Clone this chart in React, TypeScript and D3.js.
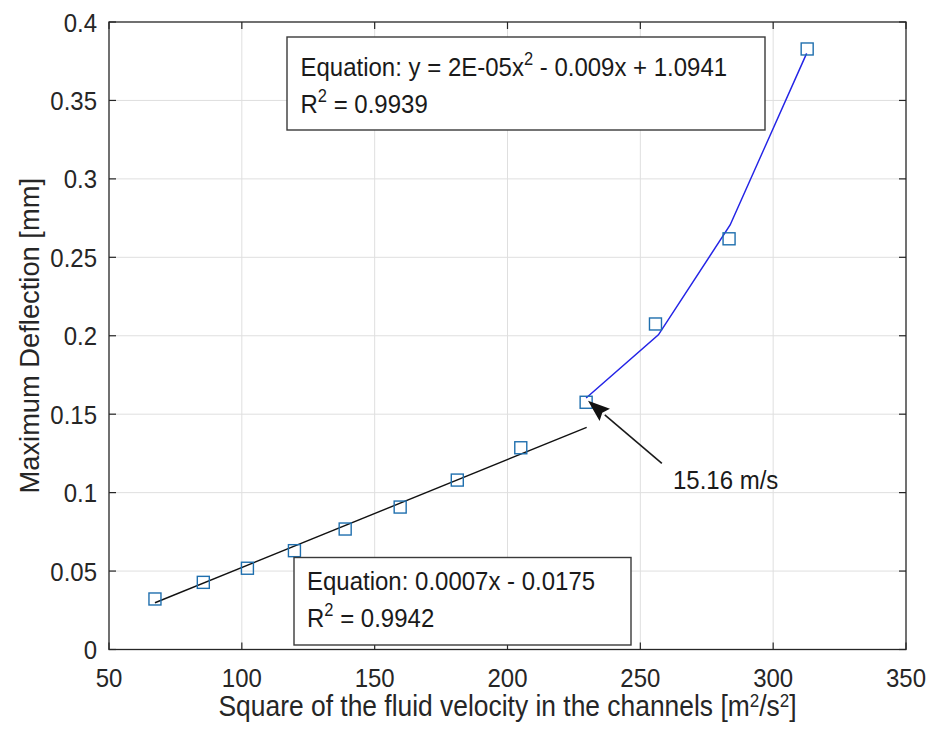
import { useEffect, useRef } from "react"
import * as d3 from "d3"

// measured points (x = velocity^2, y = max deflection)
const velocitySq = [67.3, 85.5, 102.1, 119.8, 138.9, 159.6, 181.1, 205.0, 229.6, 255.7, 283.4, 312.8]
const deflection = [0.0322, 0.0428, 0.0518, 0.063, 0.0768, 0.0908, 0.108, 0.1286, 0.1576, 0.2075, 0.2618, 0.3828]

// linear fit (black)
const linFitX = [67.3, 229.8]
const linFitY = [0.0298, 0.1416]

// quadratic fit (blue)
const quadFitX = [229.6, 256.8, 283.8, 312.6]
const quadFitY = [0.1603, 0.2006, 0.2706, 0.380]

const xTicks = [50, 100, 150, 200, 250, 300, 350]
const yTicks = [0, 0.05, 0.1, 0.15, 0.2, 0.25, 0.3, 0.35, 0.4]

const quadEquation = ["Equation: y = 2E-05x", "2", " - 0.009x + 1.0941"]
const quadR2 = "0.9939"
const linEquation = "Equation: 0.0007x - 0.0175"
const linR2 = "0.9942"
const arrowLabel = "15.16 m/s"
const arrowFrom = [258.1, 0.1187] // tail of the arrow, near the label
const arrowTo = [230.3, 0.1586]   // tip at the 15.16 m/s point

const FONT = "'Liberation Sans', Arial, Helvetica, sans-serif"
const STRETCH = 1.1 // glyphs in the reference are a bit taller than wide

export default function App() {
    const ref = useRef<SVGSVGElement>(null)

    useEffect(() => {
        const width = 932, height = 735
        const marginLeft = 109, marginRight = 26, marginTop = 22, marginBottom = 85.5
        const svg = d3.select(ref.current)
        svg.selectAll('*').remove()

        const x = d3.scaleLinear().domain([50, 350]).range([marginLeft, width - marginRight])
        const y = d3.scaleLinear().domain([0, 0.4]).range([height - marginBottom, marginTop])
        const axisColor = '#262626'
        const tickLen = 7

        // text placed at (tx,ty) with a slight vertical stretch
        const label = (tx: number, ty: number, size: number, color = '#1a1a1a') =>
            svg.append('text')
                .attr('font-family', FONT).attr('font-size', size).attr('fill', color)
                .attr('transform', `translate(${tx},${ty}) scale(1,${STRETCH})`)

        // grid
        const grid = svg.append('g').attr('stroke', '#dfdfdf').attr('stroke-width', 1)
        grid.selectAll('line.vx').data(xTicks.slice(1, -1)).join('line')
            .attr('x1', d => x(d)).attr('x2', d => x(d))
            .attr('y1', y(0)).attr('y2', y(0.4))
        grid.selectAll('line.hy').data(yTicks.slice(1, -1)).join('line')
            .attr('x1', x(50)).attr('x2', x(350))
            .attr('y1', d => y(d)).attr('y2', d => y(d))

        // fit lines
        const line = d3.line<[number, number]>().x(d => x(d[0])).y(d => y(d[1]))
        svg.append('path')
            .attr('d', line(linFitX.map((v, i) => [v, linFitY[i]]) as [number, number][]))
            .attr('fill', 'none').attr('stroke', '#111').attr('stroke-width', 1.4)
        svg.append('path')
            .attr('d', line(quadFitX.map((v, i) => [v, quadFitY[i]]) as [number, number][]))
            .attr('fill', 'none').attr('stroke', '#2424e6').attr('stroke-width', 1.5)

        // markers
        const ms = 12
        svg.append('g').selectAll('rect').data(velocitySq).join('rect')
            .attr('x', d => x(d) - ms / 2)
            .attr('y', (_, i) => y(deflection[i]) - ms / 2)
            .attr('width', ms).attr('height', ms)
            .attr('fill', 'none').attr('stroke', '#1f6fae').attr('stroke-width', 1.4)

        // axes box
        svg.append('rect')
            .attr('x', x(50)).attr('y', y(0.4))
            .attr('width', x(350) - x(50)).attr('height', y(0) - y(0.4))
            .attr('fill', 'none').attr('stroke', axisColor).attr('stroke-width', 1.3)

        const ticks = svg.append('g').attr('stroke', axisColor).attr('stroke-width', 1.2)
        xTicks.forEach(t => {
            ticks.append('line').attr('x1', x(t)).attr('x2', x(t)).attr('y1', y(0)).attr('y2', y(0) - tickLen)
            ticks.append('line').attr('x1', x(t)).attr('x2', x(t)).attr('y1', y(0.4)).attr('y2', y(0.4) + tickLen)
        })
        yTicks.forEach(t => {
            ticks.append('line').attr('x1', x(50)).attr('x2', x(50) + tickLen).attr('y1', y(t)).attr('y2', y(t))
            ticks.append('line').attr('x1', x(350)).attr('x2', x(350) - tickLen).attr('y1', y(t)).attr('y2', y(t))
        })

        // tick labels
        xTicks.forEach(t => {
            label(x(t), y(0) + 37, 24, axisColor).attr('text-anchor', 'middle').text(t)
        })
        yTicks.forEach(t => {
            label(x(50) - 12, y(t) + 9.5, 24, axisColor).attr('text-anchor', 'end').text(String(t))
        })

        // axis titles
        const xt = label((x(50) + x(350)) / 2, 716, 26.4, axisColor).attr('text-anchor', 'middle')
        xt.append('tspan').text('Square of the fluid velocity in the channels [m')
        xt.append('tspan').attr('font-size', 17).attr('dy', -8).text('2')
        xt.append('tspan').attr('dy', 8).text('/s')
        xt.append('tspan').attr('font-size', 17).attr('dy', -8).text('2')
        xt.append('tspan').attr('dy', 8).text(']')

        svg.append('text')
            .attr('font-family', FONT).attr('font-size', 27.3).attr('fill', axisColor)
            .attr('text-anchor', 'middle')
            .attr('transform', `translate(39,${(y(0) + y(0.4)) / 2}) rotate(-90)`)
            .text('Maximum Deflection [mm]')

        // annotation boxes
        const box = (bx: number, by: number, bw: number, bh: number) => {
            svg.append('rect')
                .attr('x', bx).attr('y', by).attr('width', bw).attr('height', bh)
                .attr('fill', 'white').attr('stroke', '#3a3a3a').attr('stroke-width', 1.4)
        }
        const r2 = (tx: number, ty: number, val: string) => {
            const t = label(tx, ty, 24)
            t.append('tspan').text('R')
            t.append('tspan').attr('font-size', 16.5).attr('dy', -10).text('2')
            t.append('tspan').attr('dy', 10).text(' = ' + val)
        }

        box(287, 37, 478, 93)
        const eq1 = label(300.5, 76, 24)
        eq1.append('tspan').text(quadEquation[0])
        eq1.append('tspan').attr('font-size', 16.5).attr('dy', -10).text(quadEquation[1])
        eq1.append('tspan').attr('dy', 10).text(quadEquation[2])
        r2(300.5, 113, quadR2)

        box(294, 557.5, 337, 87.5)
        label(307, 590, 24).text(linEquation)
        r2(307, 627, linR2)

        // arrow
        const ax0 = x(arrowFrom[0]), ay0 = y(arrowFrom[1])
        const ax1 = x(arrowTo[0]), ay1 = y(arrowTo[1])
        const ang = Math.atan2(ay1 - ay0, ax1 - ax0)
        const headLen = 22, headW = 8
        const bx = ax1 - headLen * Math.cos(ang), by = ay1 - headLen * Math.sin(ang)
        svg.append('line')
            .attr('x1', ax0).attr('y1', ay0).attr('x2', bx).attr('y2', by)
            .attr('stroke', '#1a1a1a').attr('stroke-width', 1.6)
        const px = -Math.sin(ang), py = Math.cos(ang)
        const nx = bx + (ax1 - bx) * 0.15, ny = by + (ay1 - by) * 0.15
        svg.append('path')
            .attr('d', `M${ax1},${ay1}L${bx + px * headW},${by + py * headW}L${nx},${ny}L${bx - px * headW},${by - py * headW}Z`)
            .attr('fill', '#111')
        label(673, 489, 24).text(arrowLabel)
    }, [])

    return (
        <div>
            <svg ref={ref} width={932} height={735}
                style={{ position: 'absolute', left: 0, top: 0, background: 'white' }} />
        </div>
    )
}
